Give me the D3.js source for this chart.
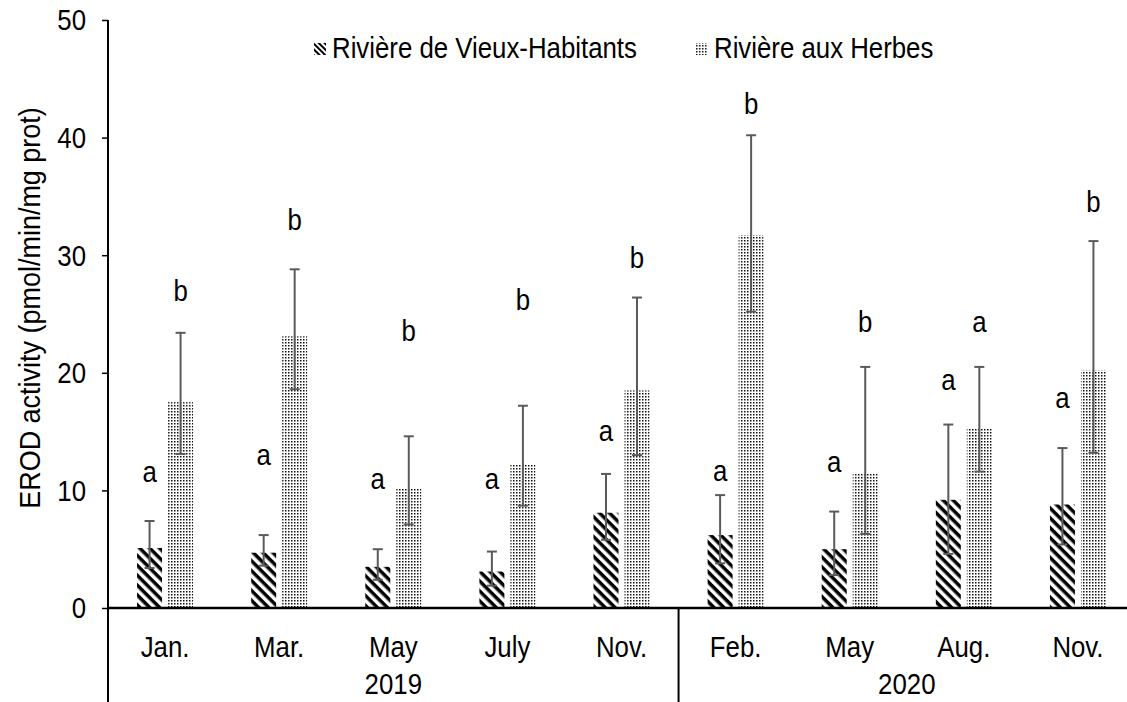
<!DOCTYPE html>
<html>
<head>
<meta charset="utf-8">
<script src="https://cdn.jsdelivr.net/npm/d3@7"></script>
<style>
  body { margin: 0; background: #fff; }
  svg { display: block; font-family: "Liberation Sans", Arial, sans-serif; }
</style>
</head>
<body>
<svg id="chart" width="1127" height="702"></svg>
<script>
// values
var months = ["Jan.", "Mar.", "May", "July", "Nov.", "Feb.", "May", "Aug.", "Nov."];
var years = ["2019", "2019", "2019", "2019", "2019", "2020", "2020", "2020", "2020"];
var seriesNames = ["Rivière de Vieux-Habitants", "Rivière aux Herbes"];

var vieuxMean = [5.1, 4.7, 3.5, 3.1, 8.1, 6.2, 5.0, 9.2, 8.8];
var vieuxHigh = [7.4, 6.2, 5.0, 4.8, 11.4, 9.6, 8.2, 15.6, 13.6];
var vieuxLow  = [3.4, 3.6, 2.4, 1.9, 5.8, 3.8, 2.8, 4.6, 5.4];
var vieuxLetters = ["a", "a", "a", "a", "a", "a", "a", "a", "a"];
var vieuxLetterAt = [11.6, 13.0, 11.0, 11.0, 15.1, 11.7, 12.4, 19.4, 17.9];

var herbesMean = [17.5, 23.1, 10.2, 12.2, 18.5, 31.7, 11.4, 15.3, 20.2];
var herbesHigh = [23.4, 28.8, 14.6, 17.2, 26.4, 40.2, 20.5, 20.5, 31.2];
var herbesLow  = [13.1, 18.6, 7.1, 8.7, 13.0, 25.2, 6.3, 11.6, 13.2];
var herbesLetters = ["b", "b", "b", "b", "b", "b", "b", "a", "b"];
var herbesLetterAt = [27.0, 33.0, 23.6, 26.2, 29.8, 42.9, 24.3, 24.3, 34.5];

var yTicks = [0, 10, 20, 30, 40, 50];

var fontSize = 29;
var squeeze = 0.89;   // text in the reference is a bit narrow

// text placed with translate + horizontal squeeze
function label(parent, x, y, txt, anchor) {
    return parent.append("text")
        .attr("transform", "translate(" + x + "," + y + ") scale(" + squeeze + ",1)")
        .attr("text-anchor", anchor || "start")
        .attr("font-size", fontSize)
        .attr("fill", "#000")
        .text(txt);
}

function addHatch(defs, id, size) {
    var p = defs.append("pattern")
        .attr("id", id)
        .attr("patternUnits", "userSpaceOnUse")
        .attr("width", size).attr("height", size)
        .attr("patternTransform", "rotate(45)");
    p.append("rect").attr("width", size).attr("height", size).attr("fill", "#fff");
    p.append("rect").attr("width", size).attr("height", size / 2).attr("fill", "#000");
}

function init() {
    var svg = d3.select("#chart");

    var defs = svg.append("defs");
    // wide downward diagonal
    addHatch(defs, "hatch", 7);
    addHatch(defs, "hatchSmall", 4);
    // small dot grid
    var dots = defs.append("pattern")
        .attr("id", "dots")
        .attr("patternUnits", "userSpaceOnUse")
        .attr("width", 3).attr("height", 3);
    dots.append("rect").attr("width", 3).attr("height", 3).attr("fill", "#fff");
    dots.append("rect").attr("width", 1.5).attr("height", 1.5).attr("fill", "#111");

    var x0 = d3.scaleBand().domain(d3.range(months.length)).range([108, 1135]);
    var x1 = d3.scaleBand().domain([0, 1]).range([-28, 28]).paddingInner(0.194);
    var y = d3.scaleLinear().domain([0, 50]).range([608, 20]);

    var flat = [];
    months.forEach(function(m, i) {
        flat.push({s: 0, i: i, v: vieuxMean[i], hi: vieuxHigh[i], lo: vieuxLow[i], t: vieuxLetters[i], ty: vieuxLetterAt[i]});
        flat.push({s: 1, i: i, v: herbesMean[i], hi: herbesHigh[i], lo: herbesLow[i], t: herbesLetters[i], ty: herbesLetterAt[i]});
    });
    var fills = ["url(#hatch)", "url(#dots)"];
    var legendFills = ["url(#hatchSmall)", "url(#dots)"];

    function cx(d) { return x0(d.i) + x0.bandwidth() / 2 + x1(d.s) + x1.bandwidth() / 2; }

    var g = svg.append("g");
    g.selectAll("rect.bar")
        .data(flat)
        .enter()
        .append("rect")
            .attr("class", "bar")
            .attr("x", function(d) { return cx(d) - x1.bandwidth() / 2; })
            .attr("y", function(d) { return y(d.v); })
            .attr("width", x1.bandwidth())
            .attr("height", function(d) { return y(0) - y(d.v); })
            .attr("fill", function(d) { return fills[d.s]; });

    // error bars
    var err = g.selectAll("g.err").data(flat).enter().append("g")
        .attr("stroke", "#5a5a5a").attr("stroke-width", 2);
    err.append("line")
        .attr("x1", cx).attr("x2", cx)
        .attr("y1", function(d) { return y(d.hi); })
        .attr("y2", function(d) { return y(d.lo); });
    err.append("line")
        .attr("x1", function(d) { return cx(d) - 5; })
        .attr("x2", function(d) { return cx(d) + 5; })
        .attr("y1", function(d) { return y(d.hi); })
        .attr("y2", function(d) { return y(d.hi); });
    err.append("line")
        .attr("x1", function(d) { return cx(d) - 5; })
        .attr("x2", function(d) { return cx(d) + 5; })
        .attr("y1", function(d) { return y(d.lo); })
        .attr("y2", function(d) { return y(d.lo); });

    // significance letters
    flat.forEach(function(d) {
        label(g, cx(d), y(d.ty) + fontSize * 0.35, d.t, "middle");
    });

    // y axis
    var yAxis = d3.axisLeft(y).tickValues(yTicks).tickSize(6).tickFormat("");
    var ya = svg.append("g").attr("transform", "translate(108,0)").call(yAxis);
    ya.select(".domain").remove();
    ya.selectAll(".tick line").attr("stroke", "#000").attr("stroke-width", 1.5);
    yTicks.forEach(function(t) {
        label(svg, 86, y(t) + fontSize * 0.36, d3.format("d")(t), "end");
    });
    svg.append("line").attr("x1", 108).attr("x2", 108).attr("y1", y(50)).attr("y2", 702)
        .attr("stroke", "#000").attr("stroke-width", 2);

    // x axis (two level categories)
    svg.append("line").attr("x1", 108).attr("x2", 1135).attr("y1", y(0)).attr("y2", y(0))
        .attr("stroke", "#000").attr("stroke-width", 2.5);
    months.forEach(function(m, i) {
        label(svg, x0(i) + x0.bandwidth() / 2, 657, m, "middle");
    });

    var yearGroups = d3.groups(d3.range(months.length), function(i) { return years[i]; });
    yearGroups.forEach(function(yg, k) {
        var first = yg[1][0], last = yg[1][yg[1].length - 1];
        var left = x0(first), right = x0(last) + x0.bandwidth();
        label(svg, (left + right) / 2, 694, yg[0], "middle");
        if (k > 0) {
            svg.append("line").attr("x1", left).attr("x2", left).attr("y1", y(0)).attr("y2", 702)
                .attr("stroke", "#000").attr("stroke-width", 2);
        }
    });

    // y axis title
    svg.append("text")
        .attr("transform", "translate(40,308) rotate(-90) scale(0.93,1)")
        .attr("text-anchor", "middle")
        .attr("font-size", fontSize)
        .text("EROD activity (pmol/min/mg prot)");

    // legend
    var legX = [314, 696];
    seriesNames.forEach(function(name, i) {
        svg.append("rect").attr("x", legX[i]).attr("y", 43).attr("width", 12).attr("height", 12)
            .attr("fill", legendFills[i]);
        label(svg, legX[i] + 18, 58, name, "start");
    });
}

init();
</script>
</body>
</html>
